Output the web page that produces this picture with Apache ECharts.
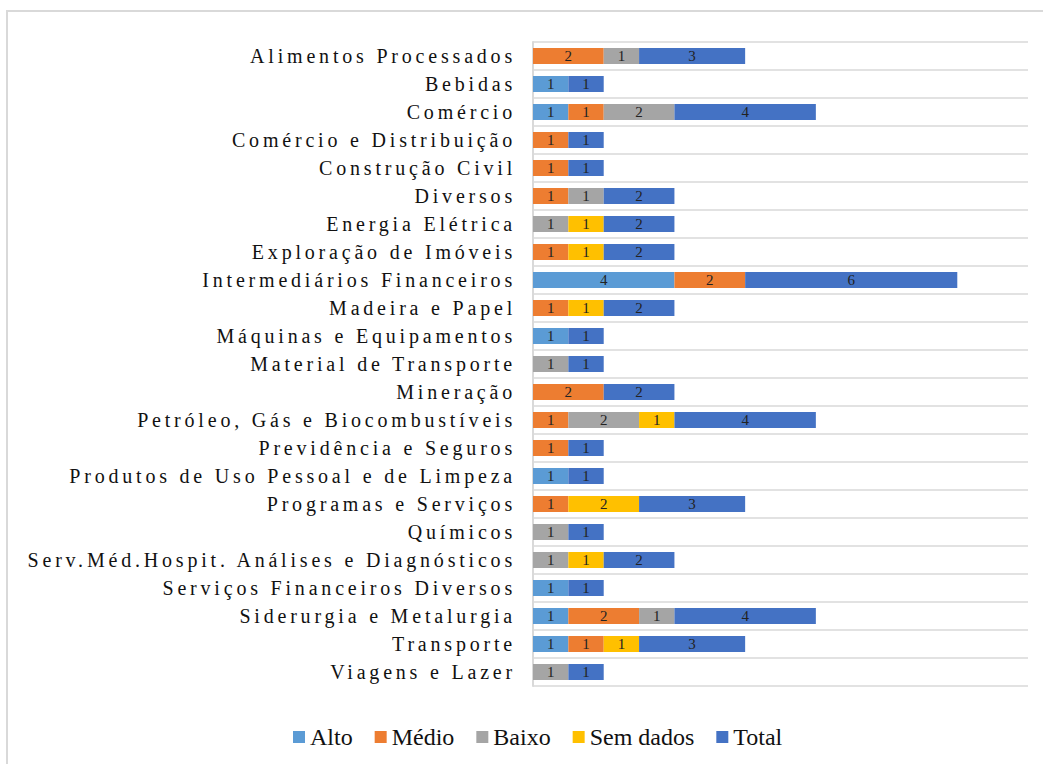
<!DOCTYPE html>
<html>
<head>
<meta charset="utf-8">
<script src="https://cdn.jsdelivr.net/npm/echarts@6/dist/echarts.min.js"></script>
<style>
  html, body { margin: 0; padding: 0; background: #fff; }
  #main { width: 1043px; height: 764px; }
  /* category labels (20px) are letter-spaced in the original */
  text[style*="20px"], text[font-size="20"], text[font-size="20px"] { letter-spacing: 3.8px; }
</style>
</head>
<body>
<div id="main"></div>
<script>
var categories = [
  'Alimentos Processados', 'Bebidas', 'Comércio', 'Comércio e Distribuição',
  'Construção Civil', 'Diversos', 'Energia Elétrica', 'Exploração de Imóveis',
  'Intermediários Financeiros', 'Madeira e Papel', 'Máquinas e Equipamentos',
  'Material de Transporte', 'Mineração', 'Petróleo, Gás e Biocombustíveis',
  'Previdência e Seguros', 'Produtos de Uso Pessoal e de Limpeza',
  'Programas e Serviços', 'Químicos', 'Serv.Méd.Hospit. Análises e Diagnósticos',
  'Serviços Financeiros Diversos', 'Siderurgia e Metalurgia', 'Transporte', 'Viagens e Lazer'
];
var alto     = [null, 1, 1, null, null, null, null, null, 4, null, 1, null, null, null, null, 1, null, null, null, 1, 1, 1, null];
var medio    = [2, null, 1, 1, 1, 1, null, 1, 2, 1, null, null, 2, 1, 1, null, 1, null, null, null, 2, 1, null];
var baixo    = [1, null, 2, null, null, 1, 1, null, null, null, null, 1, null, 2, null, null, null, 1, 1, null, 1, null, 1];
var semDados = [null, null, null, null, null, null, 1, 1, null, 1, null, null, null, 1, null, null, 2, null, 1, null, null, 1, null];
var total    = [3, 1, 4, 1, 1, 2, 2, 2, 6, 2, 1, 1, 2, 4, 1, 1, 3, 1, 2, 1, 4, 3, 1];

var serif = 'Liberation Serif, serif';
var myChart = echarts.init(document.getElementById('main'), null, { renderer: 'svg' });

function mk(name, data, color) {
  return {
    name: name,
    type: 'bar',
    stack: 'all',
    barWidth: 16,
    data: data,
    itemStyle: { color: color },
    label: {
      show: true,
      position: 'inside',
      color: '#222',
      fontFamily: serif,
      fontSize: 15
    }
  };
}

var option = {
  animation: false,
  backgroundColor: '#fff',
  textStyle: { fontFamily: serif },
  graphic: [{
    type: 'rect',
    shape: { x: 7, y: 11, width: 1100, height: 800 },
    style: { fill: 'none', stroke: '#d9d9d9', lineWidth: 2 },
    silent: true
  }],
  grid: { left: 533, right: 15, top: 42, bottom: 78 },
  legend: {
    top: 725,
    left: 293,
    padding: 0,
    itemWidth: 12,
    itemHeight: 12,
    itemGap: 22,
    icon: 'rect',
    textStyle: { fontFamily: serif, fontSize: 24, color: '#111' },
    data: ['Alto', 'Médio', 'Baixo', 'Sem dados', 'Total']
  },
  xAxis: {
    type: 'value',
    min: 0,
    max: 14,
    show: false
  },
  yAxis: {
    type: 'category',
    inverse: true,
    data: categories,
    axisTick: { show: false },
    axisLine: { show: true, lineStyle: { color: '#d9d9d9', width: 2 } },
    splitLine: { show: true, lineStyle: { color: '#d9d9d9', width: 1.5 } },
    axisLabel: {
      color: '#111',
      fontFamily: serif,
      fontSize: 20,
      margin: 17
    }
  },
  series: [
    mk('Alto', alto, '#5B9BD5'),
    mk('Médio', medio, '#ED7D31'),
    mk('Baixo', baixo, '#A5A5A5'),
    mk('Sem dados', semDados, '#FFC000'),
    mk('Total', total, '#4472C4')
  ]
};

myChart.setOption(option);
</script>
</body>
</html>
